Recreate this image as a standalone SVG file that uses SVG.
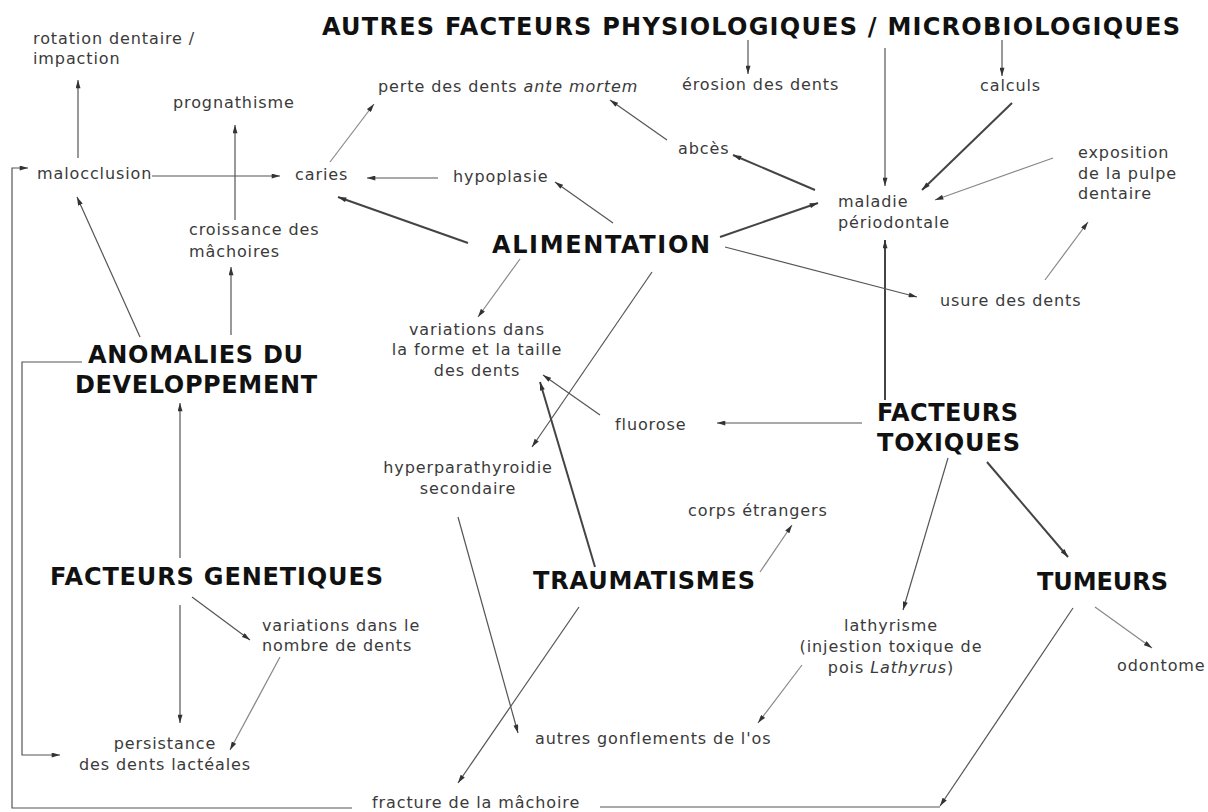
<svg xmlns="http://www.w3.org/2000/svg" width="1208" height="812" viewBox="0 0 1208 812">
<style>
.t{font-family:"DejaVu Sans","Liberation Sans",sans-serif;font-size:16px;fill:#3a3a3a;letter-spacing:0.9px}
.m{text-anchor:middle}
.h{font-family:"DejaVu Sans","Liberation Sans",sans-serif;font-weight:bold;font-size:24px;fill:#111}
.c{fill:none;stroke:#555;stroke-width:1.2}
.k{stroke:#444;stroke-width:2}
.l{stroke:#888}
</style>
<defs>
<marker id="a" viewBox="0 0 10 6" markerWidth="9" markerHeight="5" refX="10" refY="3" orient="auto" markerUnits="userSpaceOnUse"><path d="M0,0 L10,3 L0,6 z" fill="#333"/></marker>
</defs>
<rect width="1208" height="812" fill="#fff"/>
<g id="connectors" marker-end="url(#a)">
<path class="c" d="M748,40 V74"/>
<path class="c" d="M885,48 V186"/>
<path class="c" d="M1002,40 V76"/>
<path class="c k" d="M1012,103 L922,190"/>
<path class="c l" d="M1053,158 L935,200"/>
<path class="c l" d="M1045,280 L1088,222"/>
<path class="c k" d="M885,400 V240"/>
<path class="c k" d="M720,237 L818,203"/>
<path class="c k" d="M815,190 L733,155"/>
<path class="c" d="M667,140 L610,100"/>
<path class="c l" d="M330,162 L374,104"/>
<path class="c" d="M438,178 L367,178"/>
<path class="c k" d="M468,243 L338,197"/>
<path class="c" d="M613,223 L555,182"/>
<path class="c" d="M725,247 L917,297"/>
<path class="c l" d="M520,259 L478,317"/>
<path class="c" d="M652,272 L532,447"/>
<path class="c" d="M600,415 L543,375"/>
<path class="c k" d="M595,567 L540,382"/>
<path class="c" d="M862,423 L717,423"/>
<path class="c l" d="M760,572 L792,525"/>
<path class="c" d="M458,517 L518,733"/>
<path class="c" d="M579,607 L458,783"/>
<path class="c l" d="M802,665 L758,723"/>
<path class="c" d="M948,458 L903,610"/>
<path class="c k" d="M987,462 L1068,557"/>
<path class="c l" d="M1095,607 L1152,648"/>
<path class="c" d="M1073,608 L940,806"/>
<path class="c" marker-end="none" d="M940,807 H600"/>
<path class="c" d="M352,808 H12 V168 H28"/>
<path class="c" d="M82,362 H22 V755 H60"/>
<path class="c" d="M140,337 L77,197"/>
<path class="c" d="M231,335 V267"/>
<path class="c" d="M235,220 V125"/>
<path class="c" d="M78,158 V80"/>
<path class="c" d="M152,176 H280"/>
<path class="c" d="M180,558 V403"/>
<path class="c" d="M180,605 V723"/>
<path class="c" d="M192,597 L250,640"/>
<path class="c l" d="M280,657 L230,750"/>
</g>
<g id="title"><text class="h" x="322" y="35" textLength="858">AUTRES FACTEURS PHYSIOLOGIQUES / MICROBIOLOGIQUES</text></g>
<g id="alimentation"><text class="h" x="492" y="253" textLength="218">ALIMENTATION</text></g>
<g id="anomalies"><text class="h" x="88" y="363" textLength="215">ANOMALIES DU</text><text class="h" x="75" y="393" textLength="242">DEVELOPPEMENT</text></g>
<g id="toxiques"><text class="h" x="877" y="421" textLength="141">FACTEURS</text><text class="h" x="877" y="451" textLength="143">TOXIQUES</text></g>
<g id="tumeurs"><text class="h" x="1037" y="590" textLength="131">TUMEURS</text></g>
<g id="genetiques"><text class="h" x="50" y="585" textLength="333">FACTEURS GENETIQUES</text></g>
<g id="traumatismes"><text class="h" x="533" y="589" textLength="222">TRAUMATISMES</text></g>
<g id="rotation"><text class="t" x="33" y="44">rotation dentaire /</text><text class="t" x="33" y="64">impaction</text></g>
<g id="prognathisme"><text class="t" x="173" y="108">prognathisme</text></g>
<g id="malocclusion"><text class="t" x="37" y="179">malocclusion</text></g>
<g id="caries"><text class="t" x="295" y="180">caries</text></g>
<g id="croissance"><text class="t" x="189" y="235">croissance des</text><text class="t" x="189" y="257">mâchoires</text></g>
<g id="perte"><text class="t" x="378" y="92">perte des dents <tspan font-style="italic">ante mortem</tspan></text></g>
<g id="erosion"><text class="t" x="682" y="90">érosion des dents</text></g>
<g id="calculs"><text class="t" x="980" y="91">calculs</text></g>
<g id="abces"><text class="t" x="678" y="154">abcès</text></g>
<g id="hypoplasie"><text class="t" x="453" y="182">hypoplasie</text></g>
<g id="maladie"><text class="t" x="838" y="207">maladie</text><text class="t" x="838" y="228">périodontale</text></g>
<g id="exposition"><text class="t" x="1078" y="158">exposition</text><text class="t" x="1078" y="179">de la pulpe</text><text class="t" x="1078" y="199">dentaire</text></g>
<g id="usure"><text class="t" x="940" y="306">usure des dents</text></g>
<g id="variations-forme"><text class="t m" x="477" y="335">variations dans</text><text class="t m" x="477" y="355">la forme et la taille</text><text class="t m" x="477" y="376">des dents</text></g>
<g id="fluorose"><text class="t" x="615" y="430">fluorose</text></g>
<g id="hyperparathyroidie"><text class="t m" x="468" y="473">hyperparathyroidie</text><text class="t m" x="468" y="494">secondaire</text></g>
<g id="corps"><text class="t" x="688" y="516">corps étrangers</text></g>
<g id="lathyrisme"><text class="t m" x="891" y="631">lathyrisme</text><text class="t m" x="891" y="652">(injestion toxique de</text><text class="t m" x="891" y="673">pois <tspan font-style="italic">Lathyrus</tspan>)</text></g>
<g id="odontome"><text class="t" x="1117" y="671">odontome</text></g>
<g id="variations-nombre"><text class="t" x="262" y="631">variations dans le</text><text class="t" x="262" y="651">nombre de dents</text></g>
<g id="persistance"><text class="t m" x="165" y="749">persistance</text><text class="t m" x="165" y="770">des dents lactéales</text></g>
<g id="gonflements"><text class="t" x="535" y="744">autres gonflements de l'os</text></g>
<g id="fracture"><text class="t" x="372" y="808">fracture de la mâchoire</text></g>
</svg>
